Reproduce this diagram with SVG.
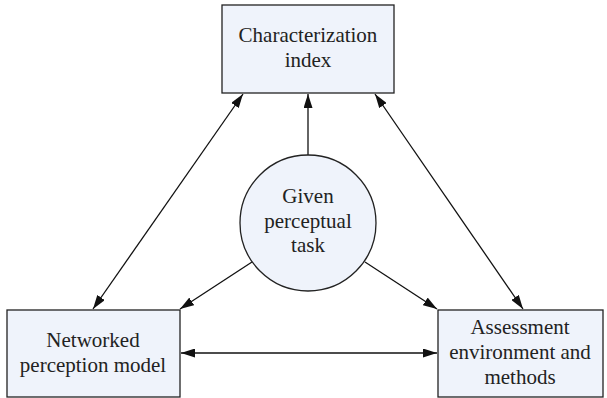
<svg xmlns="http://www.w3.org/2000/svg" width="607" height="398" viewBox="0 0 607 398">
<style>
.box{fill:#eff3fb;stroke:#222;stroke-width:1.3}
.t{font-family:"Liberation Serif","Times New Roman",serif;font-size:21px;fill:#222;text-anchor:middle}
.c line{stroke:#111;stroke-width:1.3;fill:none}
</style>
<defs>
<marker id="ah" viewBox="0 0 14 9" refX="14" refY="4.5" markerWidth="14" markerHeight="9" markerUnits="userSpaceOnUse" orient="auto-start-reverse">
<path d="M0,0 L14,4.5 L0,9 Z" fill="#111"/>
</marker>
</defs>
<rect width="607" height="398" fill="#fff"/>
<g class="c">
<line x1="243" y1="94" x2="93" y2="309" marker-start="url(#ah)" marker-end="url(#ah)"/>
<line x1="375" y1="94" x2="523" y2="309" marker-start="url(#ah)" marker-end="url(#ah)"/>
<line x1="308" y1="155" x2="308" y2="94" marker-end="url(#ah)"/>
<line x1="252" y1="262" x2="180" y2="309" marker-end="url(#ah)"/>
<line x1="365" y1="262" x2="437" y2="309" marker-end="url(#ah)"/>
<line x1="181" y1="353" x2="437" y2="353" marker-start="url(#ah)" marker-end="url(#ah)"/>
</g>
<g id="top">
<rect class="box" x="222" y="5" width="172" height="88"/>
<text class="t" x="308" y="42">Characterization</text>
<text class="t" x="308" y="67">index</text>
</g>
<g id="center">
<circle class="box" cx="308" cy="223" r="68"/>
<text class="t" x="308" y="203">Given</text>
<text class="t" x="308" y="228">perceptual</text>
<text class="t" x="308" y="252">task</text>
</g>
<g id="left">
<rect class="box" x="7" y="310" width="173" height="87"/>
<text class="t" x="93" y="347">Networked</text>
<text class="t" x="93" y="372">perception model</text>
</g>
<g id="right">
<rect class="box" x="438" y="310" width="165" height="87"/>
<text class="t" x="520" y="334">Assessment</text>
<text class="t" x="520" y="359">environment and</text>
<text class="t" x="520" y="384">methods</text>
</g>
</svg>
